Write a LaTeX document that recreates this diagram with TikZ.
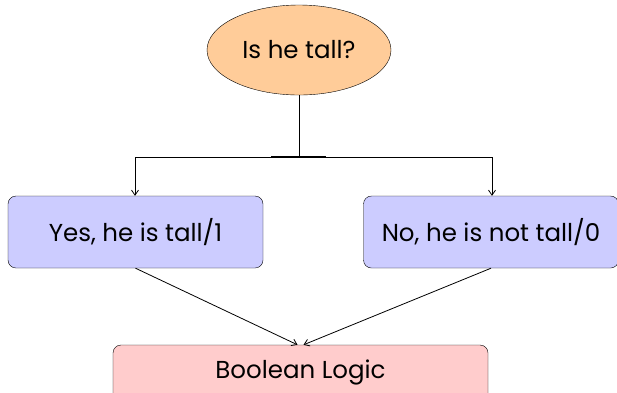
\documentclass[tikz,border=0pt]{standalone}
\usepackage{fontspec}
\setmainfont{Poppins}
\usetikzlibrary{shapes.geometric,arrows.meta}
\begin{document}
\begin{tikzpicture}[x=1pt,y=-1pt,
  every node/.style={font=\fontsize{24.5}{28}\selectfont, text=black},
  decision/.style={ellipse, draw=black, minimum width=184pt, minimum height=90pt, inner sep=0pt},
  answer/.style={rectangle, rounded corners=8pt, draw=black, fill=blue!20, minimum width=255pt, minimum height=72pt, inner sep=0pt},
  result/.style={rectangle, rounded corners=8pt, draw=black, fill=red!20, minimum width=375pt, minimum height=56pt, inner sep=0pt},
  conn/.style={draw=black, line width=0.8pt},
  arr/.style={conn, -{Straight Barb[length=5pt,width=7pt]}}
]
\useasboundingbox (0,0) rectangle (617,392);
\definecolor{tallfill}{HTML}{FFCC99}
\node[decision, fill=tallfill] (q) at (299,50) {Is he tall?};
\node[answer] (yes) at (135.5,232) {Yes, he is tall/1};
\node[answer] (no) at (491,232) {No, he is not tall/0};
\node[result] (bl) at (300.5,373) {\raisebox{8pt}{Boolean Logic}};
\coordinate (split) at (299,157);
\coordinate (sl) at (135,157);
\coordinate (sr) at (492,157);
\coordinate (bl1) at (271,157);
\coordinate (bl2) at (326,157);
\draw[conn] (q.south) -- (split);
\draw[conn] (sl) -- (sr);
\draw[line width=2pt] (bl1) -- (bl2);
\draw[arr] (sl) -- (yes.north -| sl);
\draw[arr] (sr) -- (no.north -| sr);
\draw[arr] (yes.south) -- ([xshift=-3pt]bl.north);
\draw[arr] (no.south) -- ([xshift=3pt]bl.north);
\end{tikzpicture}
\end{document}
